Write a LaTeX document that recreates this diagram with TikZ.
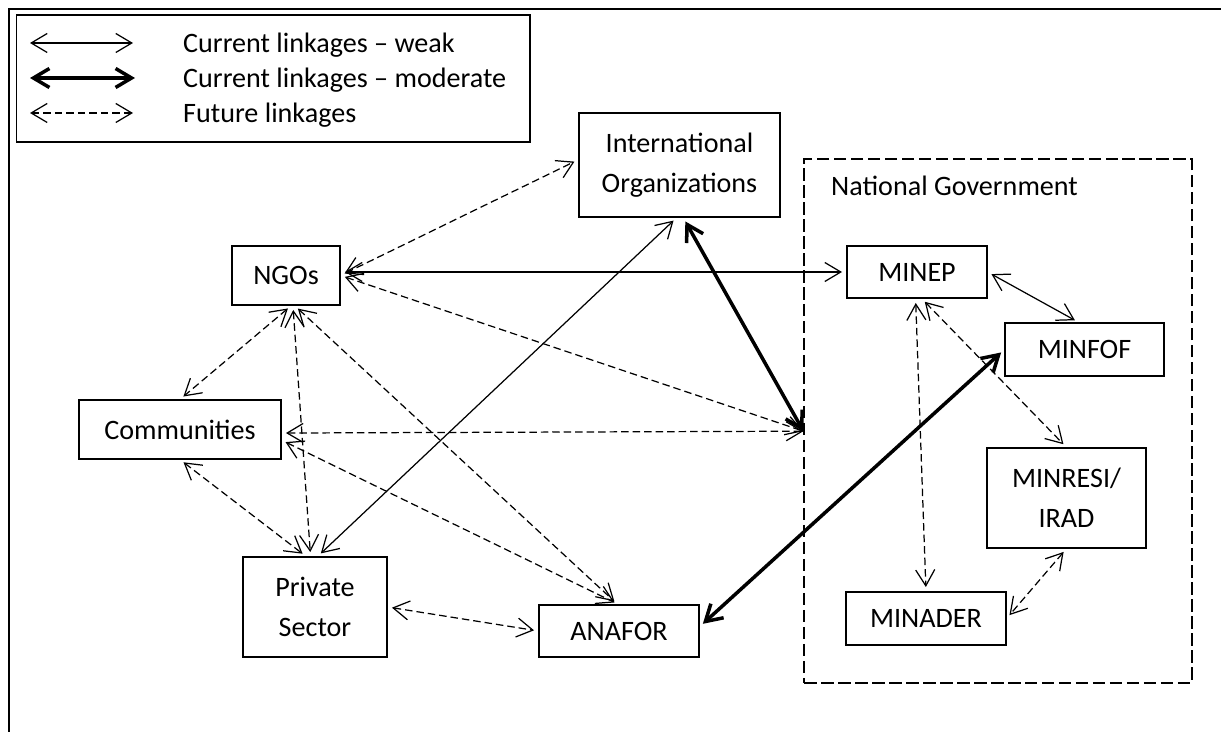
\documentclass[tikz,border=0pt]{standalone}
\usepackage{fontspec}
\setmainfont{Carlito}
\usetikzlibrary{arrows.meta, positioning}
\newcommand{\boxfont}{\fontsize{16}{22.5}\selectfont}
\tikzset{
  link/.tip={Straight Barb[length=0.32cm, width=0.38cm]},
  box/.style={draw, line width=0.7pt, inner sep=0pt, align=center, font=\boxfont},
  groupbox/.style={draw, line width=0.7pt, dash pattern=on 0.25cm off 0.09cm},
  weak/.style={link-link, line width=0.7pt},
  moderate/.style={link-link, line width=2pt},
  future/.style={weak, dash pattern=on 0.15cm off 0.08cm},
  gap/.style={shorten <=2.5pt, shorten >=2.5pt},
  startgap/.style={shorten <=2.5pt},
}
\begin{document}
\begin{tikzpicture}[x=0.02cm, y=-0.02cm]
	\useasboundingbox (0,0) rectangle (1221,732);
	% page frame
	\draw[line width=1.5pt] (9,732) |- (1221,9);
	
	% legend
	\draw[line width=0.7pt] (16.5,15) rectangle (530,142);
	\coordinate (w1) at (30,43);  \coordinate (w2) at (133,43);
	\coordinate (m1) at (30,78);  \coordinate (m2) at (135,78);
	\coordinate (f1) at (30,113); \coordinate (f2) at (133,113);
	\draw[weak] (w1) -- (w2);
	\draw[moderate] (m1) -- (m2);
	\draw[future] (f1) -- (f2);
	\node[anchor=base west, font=\boxfont] (lw) at (177,53) {Current linkages – weak};
	\node[anchor=base west, font=\boxfont] (lm) at (177,88) {Current linkages – moderate};
	\node[anchor=base west, font=\boxfont] (lf) at (177,123) {Future linkages};
	
	% national government
	\node[groupbox, minimum width=7.76cm, minimum height=10.48cm] (ng) at (998,421) {};
	\node[anchor=base west, font=\boxfont] (ngl) at (825,196) {National Government};
	
	% actors
	\node[box, minimum width=4.02cm, minimum height=2.08cm] (io) at (679.5,165) {International\\Organizations};
	\node[box, minimum width=2.16cm, minimum height=1.18cm] (ngo) at (286,275.5) {NGOs};
	\node[box, minimum width=4.04cm, minimum height=1.18cm] (com) at (180,429.5) {Communities};
	\node[box, minimum width=2.88cm, minimum height=2cm] (ps) at (315,607) {Private\\Sector};
	\node[box, minimum width=3.2cm, minimum height=1.04cm] (ana) at (619,631) {ANAFOR};
	\node[box, minimum width=2.8cm, minimum height=1.04cm] (minep) at (917,272) {MINEP};
	\node[box, minimum width=3.18cm, minimum height=1.06cm] (minfof) at (1084.5,349.5) {MINFOF};
	\node[box, minimum width=3.18cm, minimum height=2cm] (minresi) at (1066.5,498) {MINRESI/\\IRAD};
	\node[box, minimum width=3.2cm, minimum height=1.06cm] (minader) at (926,618.5) {MINADER};
	
	% current linkages
	\draw[weak, gap] (ngo.east |- minep.west) -- (minep.west);
	\draw[weak, gap] (io.-93) -- (ps.87);
	\draw[weak, gap] (minep.east) -- (minfof.102);
	\draw[moderate, startgap] (io.-86) -- (ng.183);
	\draw[moderate, gap] (ana.3) -- (minfof.west);
	
	% future linkages
	\draw[future, gap] (ngo.east) -- (io.177);
	\draw[future, startgap] (ngo.east) -- (ng.183);
	\draw[future, gap] (ngo.-80) -- (com.north);
	\draw[future, gap] (ngo.-77) -- (ps.95);
	\draw[future, gap] (ngo.-74) -- (ana.93);
	\draw[future, startgap] (com.-2) -- (ng.183);
	\draw[future, gap] (com.south) -- (ps.100);
	\draw[future, gap] (com.-6) -- (ana.91);
	\draw[future, gap] (ps.east) -- (ana.west);
	\draw[future, gap] (minep.-93) -- (minader.north);
	\draw[future, gap] (minep.-80) -- (minresi.north);
	\draw[future, gap] (minresi.south) -- (minader.east);
\end{tikzpicture}
\end{document}
